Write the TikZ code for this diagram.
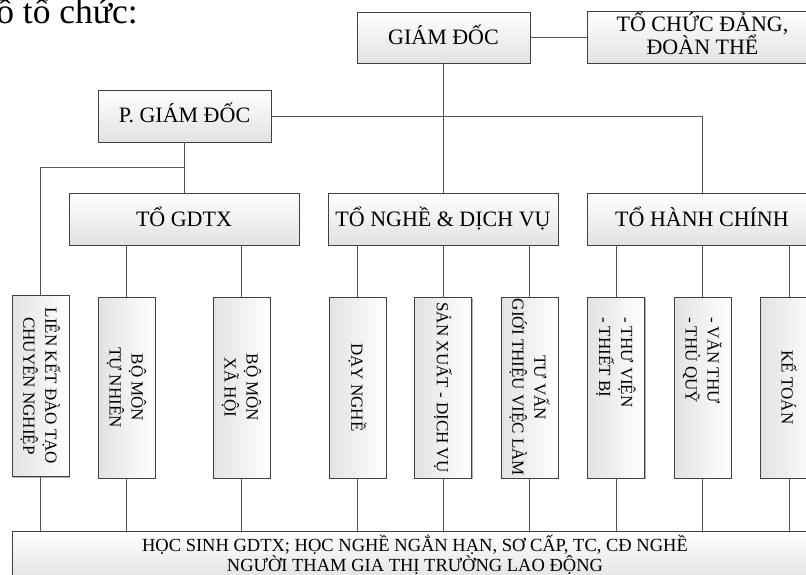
\documentclass[tikz,border=0pt]{standalone}
\usepackage{fontspec}
\setmainfont{Liberation Serif}
\usepackage{graphicx}
\usetikzlibrary{shadows}
\definecolor{bordc}{HTML}{404040}
\definecolor{linec}{HTML}{555555}
\definecolor{fillb}{HTML}{E2E2E2}
\newcommand{\vtxt}[2][181pt]{\rotatebox{-90}{\parbox{#1}{\centering #2}}}
\newcommand{\vtxtl}[2][141pt]{\rotatebox{-90}{\parbox{#1}{\raggedright #2}}}
\tikzset{
  orgbox/.style={draw=bordc, line width=0.9pt, rectangle, inner sep=0pt, align=center,
    top color=white, bottom color=fillb,
    drop shadow={shadow xshift=1.4pt, shadow yshift=-1.4pt, opacity=0.3, fill=black}},
  hbox/.style={orgbox, font=\fontsize{22}{23}\selectfont, minimum height=52pt,
    text height=16pt, text depth=2pt},
  vbox/.style={orgbox, left color=fillb, right color=white, minimum width=57pt,
    minimum height=181pt, font=\fontsize{17}{22}\selectfont},
  conn/.style={draw=linec, line width=0.8pt},
}
\begin{document}
\begin{tikzpicture}[x=1pt,y=-1pt]
\useasboundingbox (0,0) rectangle (806,575);
\clip (0,0) rectangle (806,575);
\node[anchor=base east, inner sep=0pt, font=\fontsize{35.5}{38}\selectfont] (title) at (138,24) {ồ tổ chức:};
% top level
\node[hbox, minimum width=173pt, minimum height=51pt] (gd) at (443.5,37.5) {GIÁM ĐỐC};
\node[hbox, minimum width=231pt, text height=38pt, text depth=2pt] (tcd) at (702.5,37) {TỔ CHỨC ĐẢNG,\\ĐOÀN THỂ};
\node[hbox, minimum width=173pt] (pgd) at (184.5,116) {P. GIÁM ĐỐC};
% groups
\node[hbox, minimum width=230pt] (gdtx) at (184,219) {TỔ GDTX};
\node[hbox, minimum width=230pt] (nghe) at (443,219) {TỔ NGHỀ \& DỊCH VỤ};
\node[hbox, minimum width=230pt] (hc) at (702,219) {TỔ HÀNH CHÍNH};
% units
\node[vbox] (lk) at (40.5,386) {\vtxt{LIÊN KẾT ĐÀO TẠO\\CHUYÊN NGHIỆP}};
\node[vbox] (tn) at (126.5,387.5) {\vtxt{BỘ MÔN\\TỰ NHIÊN}};
\node[vbox] (xh) at (241.5,387.5) {\vtxt{BỘ MÔN\\XÃ HỘI}};
\node[vbox] (dn) at (357.5,387.5) {\vtxt{DẠY NGHỀ}};
\node[vbox] (sx) at (443,387.5) {\vtxt{SẢN XUẤT - DỊCH VỤ}};
\node[vbox] (tv) at (529.5,387.5) {\vtxt{TƯ VẤN\\GIỚI THIỆU VIỆC LÀM}};
\node[vbox] (thv) at (616,387.5) {\vtxtl{- THƯ VIỆN\\- THIẾT BỊ}};
\node[vbox] (vt) at (702.5,387.5) {\vtxtl{- VĂN THƯ\\- THỦ QUỸ}};
\node[vbox] (kt) at (789,387.5) {\vtxt{KẾ TOÁN}};
% bottom
\node[orgbox, minimum width=806pt, minimum height=50pt, font=\fontsize{18.5}{20}\selectfont,
  text height=34pt, text depth=4pt] (bot) at (415,556)
  {HỌC SINH GDTX; HỌC NGHỀ NGẮN HẠN, SƠ CẤP, TC, CĐ NGHỀ\\NGƯỜI THAM GIA THỊ TRƯỜNG LAO ĐỘNG};
% connectors
\coordinate (br) at (184.5,167);
\draw[conn] (gd.east) -- (gd.east -| tcd.west);
\draw[conn] (gd.south) -- (gd.south |- nghe.north);
\draw[conn] (pgd.east) -| (hc.north);
\draw[conn] (pgd.south) -- (pgd.south |- gdtx.north);
\draw[conn] (br) -| (lk.north);
\foreach \p/\c in {gdtx/tn, gdtx/xh, nghe/dn, nghe/sx, nghe/tv, hc/thv, hc/vt, hc/kt}{
  \draw[conn] (\p.south -| \c.north) -- (\c.north);
}
\foreach \c in {lk, tn, xh, dn, sx, tv, thv, vt, kt}{
  \draw[conn] (\c.south) -- (\c.south |- bot.north);
}
\end{tikzpicture}
\end{document}
